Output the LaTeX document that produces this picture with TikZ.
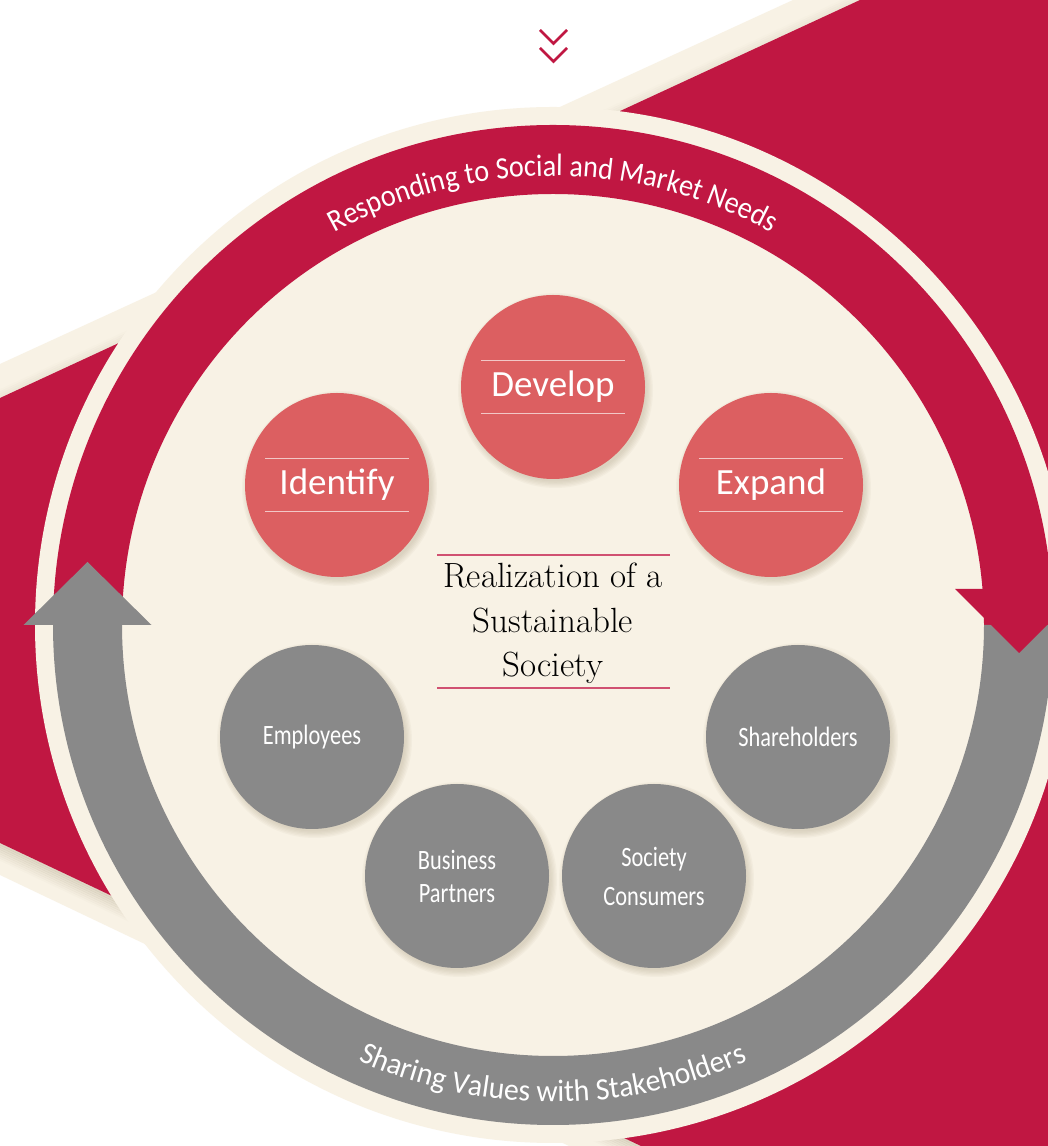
\documentclass[tikz,border=0pt]{standalone}
\usepackage{fontspec}
\newfontfamily\topfont[FakeStretch=0.91]{Carlito}
\newfontfamily\bottomfont[FakeStretch=0.96]{Carlito}
\newfontfamily\grayfont[FakeStretch=0.8]{Carlito}
\newfontfamily\pinkfont{Carlito}
\usetikzlibrary{decorations.text,calc}
\definecolor{cream}{HTML}{F8F2E5}
\definecolor{crimson}{HTML}{C01742}
\definecolor{pinkc}{HTML}{DC5F61}
\definecolor{grayc}{HTML}{898989}
\definecolor{shadowc}{HTML}{9C8F70}
\tikzset{
  pinkcirc/.style={circle, fill=pinkc, minimum size=184pt, inner sep=0pt, text=white,
    font=\pinkfont\fontsize{37}{40}\selectfont},
  graycirc/.style={circle, fill=grayc, minimum size=184pt, inner sep=0pt, text=white,
    align=center, font=\grayfont\fontsize{28}{33}\selectfont},
  whiteline/.style={white, opacity=0.65, line width=1.3pt},
  centerline/.style={crimson!75!white, line width=1.2pt},
  chevron/.style={crimson, line width=2.6pt, line join=miter},
}
\begin{document}
\begin{tikzpicture}[x=1pt,y=1pt]
\useasboundingbox (0,0) rectangle (1048,1146);
\clip (0,0) rectangle (1048,1146);
\fill[white] (0,0) rectangle (1048,1146);
% background wedges
\fill[cream] (0,782) -- (793,1146) -- (1048,1146) -- (1048,0) -- (569,0) -- (0,271) -- cycle;
\begin{scope}
  \clip (0,782) -- (793,1146) -- (1048,1146) -- (1048,0) -- (569,0) -- (0,271) -- cycle;
  \begin{scope}[shift={(0,303)}, rotate=-25.3]
    \foreach \k in {1,...,8}
      \draw[shadowc, line width=2.2pt, opacity={0.30-\k*0.034}] (-60,{-(\k-0.5)*2}) -- (800,{-(\k-0.5)*2});
  \end{scope}
  \begin{scope}[shift={(0,748)}, rotate=24.83]
    \foreach \k in {1,...,4}
      \draw[shadowc, line width=2pt, opacity={0.14-\k*0.03}] (-60,{(\k-0.5)*2}) -- (1000,{(\k-0.5)*2});
  \end{scope}
\end{scope}
\fill[crimson] (0,748) -- (860,1146) -- (1048,1146) -- (1048,0) -- (641,0) -- (0,303) -- cycle;
% chevrons
\draw[chevron] (540,1116) -- (553.5,1102.5) -- (567,1116);
\draw[chevron] (540,1098) -- (553.5,1084.5) -- (567,1098);
% main disk and rings
\fill[cream] (553,521) circle (518);
\fill[crimson] (1053,521) arc[start angle=0,end angle=180,radius=500] -- (122,521)
  arc[start angle=180,end angle=0,radius=431] -- cycle;
\fill[grayc] (53,521) arc[start angle=180,end angle=360,radius=500] -- (984,521)
  arc[start angle=360,end angle=180,radius=431] -- cycle;
\fill[grayc] (23.5,521) -- (87.5,584) -- (151.5,521) -- cycle;
\fill[crimson] (955,557) -- (1083,557) -- (1019,493) -- cycle;
% arc texts
\path[decorate, decoration={text along path, text align=center, text color=white,
  text={|\topfont\fontsize{31}{34}\selectfont|Responding to Social and Market Needs}}]
  (104,521) arc[start angle=180,end angle=0,radius=449];
\path[decorate, decoration={text along path, text align=center, text color=white,
  text={|\bottomfont\fontsize{31}{34}\selectfont|Sharing Values with Stakeholders}}]
  (76,521) arc[start angle=180,end angle=360,radius=477];
% circle shadows
\foreach \cx/\cy in {553/759, 337/661, 771/661, 312/409, 457/270, 654/270, 798/409}
  \foreach \k in {0,...,5}
    \fill[shadowc, opacity=0.055] (\cx+2.5,\cy-3.5) circle ({91+\k*1.3});
% pink circles
\node[pinkcirc] (develop) at (553,759) {Develop};
\node[pinkcirc] (identify) at (337,661) {Identify};
\node[pinkcirc] (expand) at (771,661) {Expand};
\foreach \n in {develop, identify, expand} {
  \draw[whiteline] ($(\n.center)+(-72,26.5)$) -- ($(\n.center)+(72,26.5)$);
  \draw[whiteline] ($(\n.center)+(-72,-26.5)$) -- ($(\n.center)+(72,-26.5)$);
}
% gray circles
\node[graycirc] (employees) at (312,409) {Employees};
\node[graycirc] (partners) at (457,270) {Business\\Partners};
\node[graycirc, font=\grayfont\fontsize{28}{39}\selectfont] (consumers) at (654,270) {Society\\Consumers};
\node[graycirc] (shareholders) at (798,409) {Shareholders};
% center text
\node[align=center, inner sep=0pt, text=black, font=\fontsize{35}{44.5}\selectfont] (center) at (553,522.6)
  {Realization of a\\Sustainable\\Society};
\draw[centerline] (437,591) -- (670,591);
\draw[centerline] (437,458) -- (670,458);
\end{tikzpicture}
\end{document}
